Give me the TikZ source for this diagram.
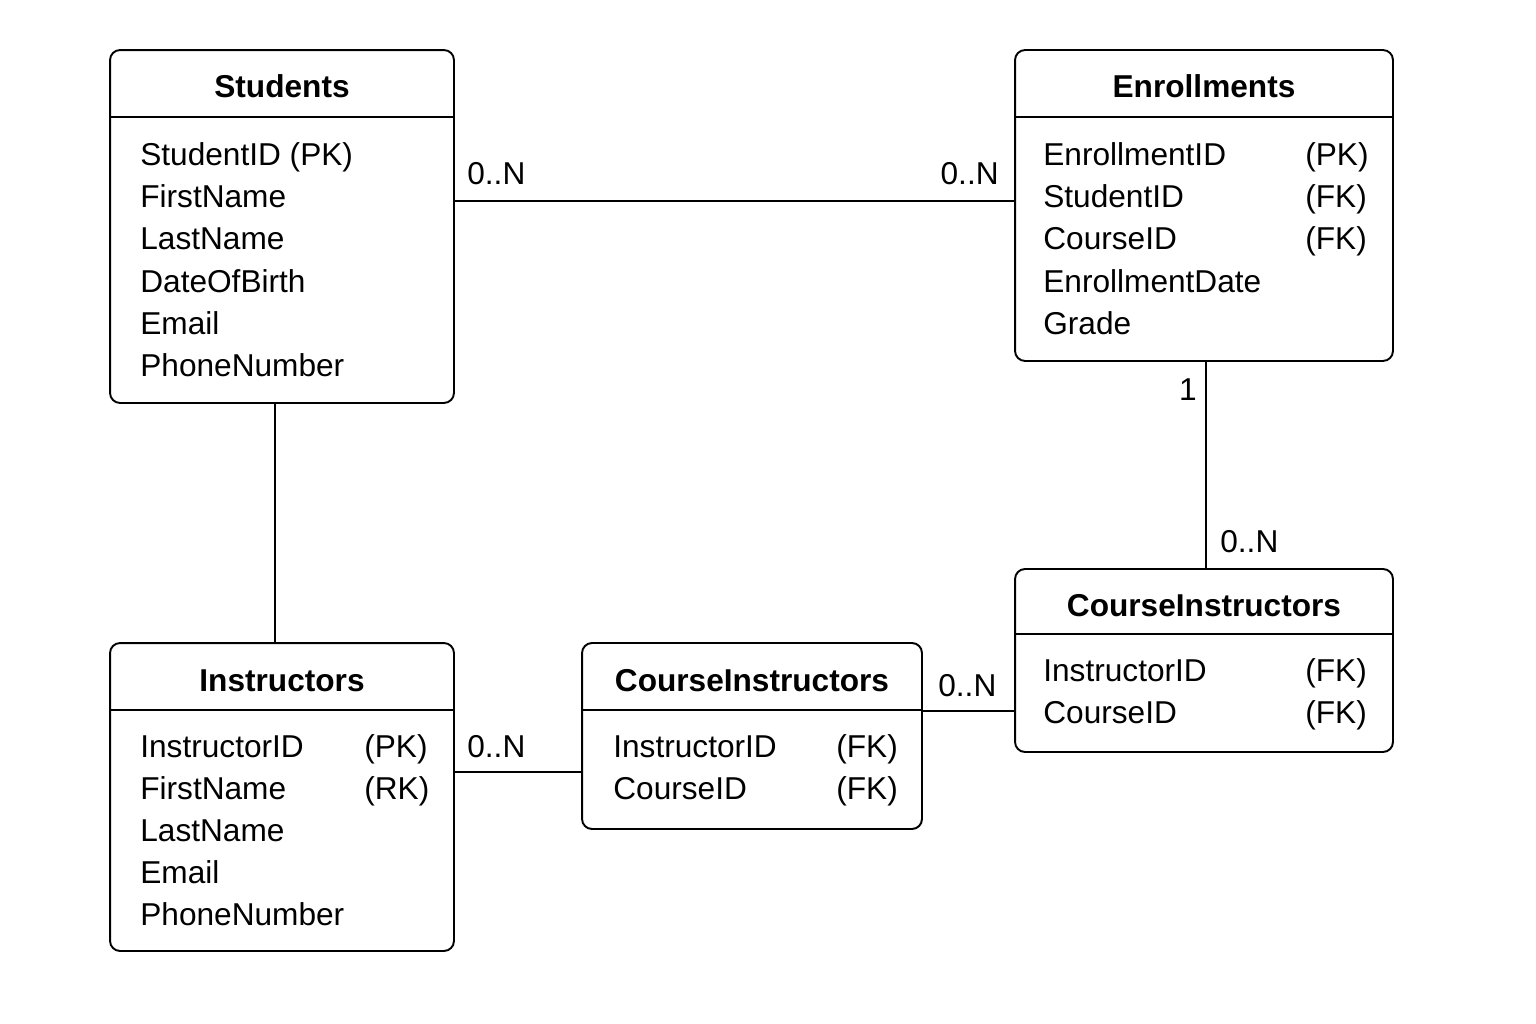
\documentclass[tikz,border=0pt]{standalone}
\usepackage{fontspec}
\setmainfont{Liberation Sans}
\usetikzlibrary{positioning}

\tikzset{
  entity/.style = {draw, line width=1.1pt, rounded corners=0.2cm, inner sep=0pt},
  title/.style = {font=\fontsize{18}{22}\selectfont\bfseries, anchor=base, inner sep=0pt},
  attr/.style = {font=\fontsize{18}{22}\selectfont, anchor=base west, inner sep=0pt},
  mult/.style = {font=\fontsize{18}{22}\selectfont, inner sep=0pt},
  rel/.style = {draw=black, line width=1.1pt}
}

\begin{document}
\begin{tikzpicture}[x=0.02cm, y=-0.02cm]
  \useasboundingbox (0,0) rectangle (1536,1024);
  % entity boxes
  \node[entity, minimum width=6.88cm, minimum height=7.06cm] (stu) at (282,226.5) {};
  \node[entity, minimum width=7.56cm, minimum height=6.22cm] (enr) at (1204,205.5) {};
  \node[entity, minimum width=6.88cm, minimum height=6.16cm] (ins) at (282,797) {};
  \node[entity, minimum width=6.8cm, minimum height=3.72cm] (ci1) at (752,736) {};
  \node[entity, minimum width=7.56cm, minimum height=3.66cm] (ci2) at (1204,660.5) {};
  % header dividers
  \draw[rel] ([yshift=-1.36cm]stu.north west) -- ([yshift=-1.36cm]stu.north east);
  \draw[rel] ([yshift=-1.36cm]enr.north west) -- ([yshift=-1.36cm]enr.north east);
  \draw[rel] ([yshift=-1.36cm]ins.north west) -- ([yshift=-1.36cm]ins.north east);
  \draw[rel] ([yshift=-1.36cm]ci1.north west) -- ([yshift=-1.36cm]ci1.north east);
  \draw[rel] ([yshift=-1.32cm]ci2.north west) -- ([yshift=-1.32cm]ci2.north east);
  % titles
  \node[title] (stu-t) at (282,98) {Students};
  \node[title] (enr-t) at (1204,98) {Enrollments};
  \node[title] (ins-t) at (282,691) {Instructors};
  \node[title] (ci1-t) at (752,691) {CourseInstructors};
  \node[title] (ci2-t) at (1204,616) {CourseInstructors};
  % attributes
  \begin{scope}[every node/.style = {attr}]
    \foreach \a [count=\i] in {StudentID (PK), FirstName, LastName, DateOfBirth, Email, PhoneNumber}
      \node (stu-\i) at (140,124+42*\i) {\a};
    \foreach \a [count=\i] in {EnrollmentID, StudentID, CourseID, EnrollmentDate, Grade}
      \node (enr-\i) at (1043,124+42*\i) {\a};
    \foreach \k [count=\i] in {(PK), (FK), (FK)}
      \node (enr-k\i) at (1305,124+42*\i) {\k};
    \foreach \a [count=\i] in {InstructorID, FirstName, LastName, Email, PhoneNumber}
      \node (ins-\i) at (140,715+42*\i) {\a};
    \foreach \k [count=\i] in {(PK), (RK)}
      \node (ins-k\i) at (364,715+42*\i) {\k};
    \foreach \a [count=\i] in {InstructorID, CourseID}
      \node (ci1-\i) at (613,715+42*\i) {\a};
    \foreach \k [count=\i] in {(FK), (FK)}
      \node (ci1-k\i) at (836,715+42*\i) {\k};
    \foreach \a [count=\i] in {InstructorID, CourseID}
      \node (ci2-\i) at (1043,639+42*\i) {\a};
    \foreach \k [count=\i] in {(FK), (FK)}
      \node (ci2-k\i) at (1305,639+42*\i) {\k};
  \end{scope}
  % relationships
  \begin{scope}[every edge/.style = {rel}]
    \path [-] (stu.east |- 0,201) edge (enr.west |- 0,201);
    \path [-] (enr.south -| 1206,0) edge (ci2.north -| 1206,0);
    \path [-] (stu.south -| 275,0) edge (ins.north -| 275,0);
    \path [-] (ins.east |- 0,772) edge (ci1.west |- 0,772);
    \path [-] (ci1.east |- 0,711) edge (ci2.west |- 0,711);
  \end{scope}
  % multiplicities
  \node[mult, anchor=base west] (m1) at (467,185) {0..N};
  \node[mult, anchor=base east] (m2) at (999,185) {0..N};
  \node[mult, anchor=base] (m3) at (1188,400) {1};
  \node[mult, anchor=base west] (m4) at (1220,552) {0..N};
  \node[mult, anchor=base west] (m5) at (467,757) {0..N};
  \node[mult, anchor=base west] (m6) at (938,696) {0..N};
\end{tikzpicture}
\end{document}
